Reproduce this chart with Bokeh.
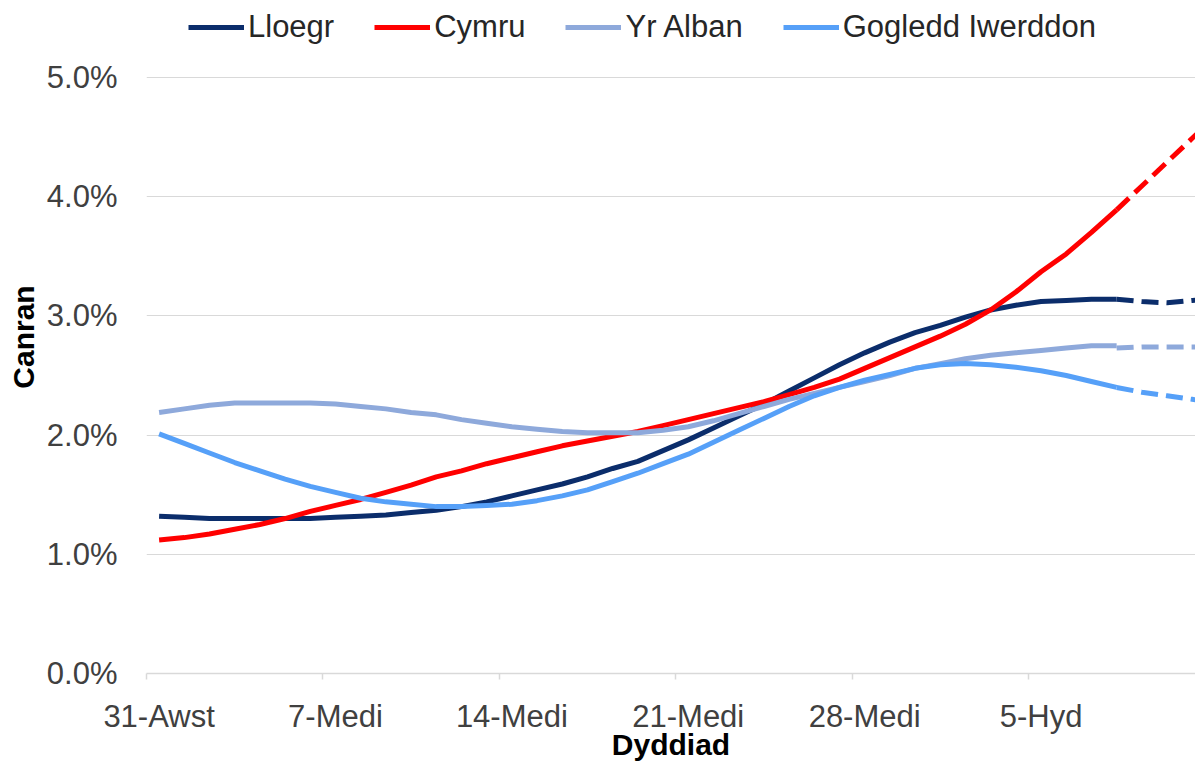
from bokeh.plotting import figure
from bokeh.models import Range1d, FixedTicker, Legend, LegendItem
from bokeh.embed import file_html
from bokeh.resources import INLINE

# ---- data (percent) ----
days = list(range(39))            # 31-Awst .. 8-Hyd (solid)
proj_days = [38, 39, 40, 41, 42]  # projection (dashed)

lloegr = [1.32, 1.31, 1.30, 1.30, 1.30, 1.30, 1.30, 1.31, 1.32, 1.33,
          1.35, 1.37, 1.40, 1.44, 1.49, 1.54, 1.59, 1.65, 1.72, 1.78,
          1.87, 1.96, 2.06, 2.16, 2.26, 2.37, 2.48, 2.59, 2.69, 2.78,
          2.86, 2.92, 2.99, 3.05, 3.09, 3.12, 3.13, 3.14, 3.14]
cymru = [1.12, 1.14, 1.17, 1.21, 1.25, 1.30, 1.36, 1.41, 1.46, 1.52,
         1.58, 1.65, 1.70, 1.76, 1.81, 1.86, 1.91, 1.95, 1.99, 2.03,
         2.08, 2.13, 2.18, 2.23, 2.28, 2.34, 2.40, 2.47, 2.56, 2.65,
         2.74, 2.83, 2.93, 3.05, 3.20, 3.37, 3.52, 3.70, 3.89]
yr_alban = [2.19, 2.22, 2.25, 2.27, 2.27, 2.27, 2.27, 2.26, 2.24, 2.22,
            2.19, 2.17, 2.13, 2.10, 2.07, 2.05, 2.03, 2.02, 2.02, 2.02,
            2.04, 2.07, 2.12, 2.18, 2.24, 2.30, 2.35, 2.40, 2.45, 2.50,
            2.56, 2.60, 2.64, 2.67, 2.69, 2.71, 2.73, 2.75, 2.75]
gogledd = [2.01, 1.93, 1.85, 1.77, 1.70, 1.63, 1.57, 1.52, 1.47, 1.44,
           1.42, 1.40, 1.40, 1.41, 1.42, 1.45, 1.49, 1.54, 1.61, 1.68,
           1.76, 1.84, 1.94, 2.04, 2.14, 2.24, 2.33, 2.40, 2.46, 2.51,
           2.56, 2.59, 2.60, 2.59, 2.57, 2.54, 2.50, 2.45, 2.40]

lloegr_proj = [3.14, 3.12, 3.11, 3.13, 3.14]
cymru_proj = [3.89, 4.09, 4.29, 4.49, 4.69]
yr_alban_proj = [2.73, 2.74, 2.74, 2.74, 2.74]
gogledd_proj = [2.40, 2.36, 2.33, 2.30, 2.27]

x_tick_pos = [0, 7, 14, 21, 28, 35]
x_tick_labels = ["31-Awst", "7-Medi", "14-Medi", "21-Medi", "28-Medi", "5-Hyd"]
y_ticks = [0, 1, 2, 3, 4, 5]
y_tick_labels = ["0.0%", "1.0%", "2.0%", "3.0%", "4.0%", "5.0%"]

names = ["Lloegr", "Cymru", "Yr Alban", "Gogledd Iwerddon"]
colors = ["#0B2D6B", "#FF0000", "#8EA9DB", "#56A0F8"]
solid = [lloegr, cymru, yr_alban, gogledd]
proj = [lloegr_proj, cymru_proj, yr_alban_proj, gogledd_proj]

FONT = "Liberation Sans"

# frame runs from the top edge of the page; the extra room above 5.0%
# holds the legend (no gridline / tick there)
p = figure(width=1195, height=765, output_backend="svg", toolbar_location=None,
           x_range=Range1d(-0.5, 41.13), y_range=Range1d(0, 5.646),
           min_border_left=146, min_border_right=0, min_border_top=0,
           min_border_bottom=92, background_fill_color="white",
           border_fill_color="white")
p.outline_line_color = None

# grid
p.xgrid.grid_line_color = None
p.ygrid.ticker = FixedTicker(ticks=y_ticks)
p.ygrid.grid_line_color = "#d9d9d9"
p.ygrid.grid_line_width = 1

# y axis
p.yaxis.ticker = FixedTicker(ticks=y_ticks)
p.yaxis.major_label_overrides = {t: l for t, l in zip(y_ticks, y_tick_labels)}
p.yaxis.axis_line_color = None
p.yaxis.major_tick_line_color = None
p.yaxis.minor_tick_line_color = None
p.yaxis.major_tick_out = 0
p.yaxis.major_tick_in = 0
p.yaxis.major_label_standoff = 29
p.yaxis.major_label_text_font = FONT
p.yaxis.major_label_text_font_size = "31px"
p.yaxis.major_label_text_color = "#404040"
p.yaxis.axis_label = "Canran"
p.yaxis.axis_label_text_font = FONT
p.yaxis.axis_label_text_font_size = "30px"
p.yaxis.axis_label_text_font_style = "bold"
p.yaxis.axis_label_text_color = "#000000"
p.yaxis.axis_label_standoff = 4

# x axis
boundaries = [t - 0.5 for t in x_tick_pos]
p.xaxis.ticker = FixedTicker(ticks=x_tick_pos, minor_ticks=boundaries)
p.xaxis.major_label_overrides = {t: l for t, l in zip(x_tick_pos, x_tick_labels)}
p.xaxis.axis_line_color = "#d9d9d9"
p.xaxis.axis_line_width = 1.5
p.xaxis.major_tick_line_color = None
p.xaxis.major_tick_out = 0
p.xaxis.major_tick_in = 0
p.xaxis.minor_tick_line_color = "#d9d9d9"
p.xaxis.minor_tick_line_width = 1.5
p.xaxis.minor_tick_out = 6
p.xaxis.minor_tick_in = 0
p.xaxis.major_label_standoff = 19
p.xaxis.major_label_text_font = FONT
p.xaxis.major_label_text_font_size = "31px"
p.xaxis.major_label_text_color = "#404040"
p.xaxis.axis_label = "Dyddiad"
p.xaxis.axis_label_text_font = FONT
p.xaxis.axis_label_text_font_size = "30px"
p.xaxis.axis_label_text_font_style = "bold"
p.xaxis.axis_label_text_color = "#000000"
p.xaxis.axis_label_standoff = -9

items = []
for name, col, ys, pys in zip(names, colors, solid, proj):
    r = p.line(days, ys, line_color=col, line_width=5, line_join="round")
    p.line(proj_days, pys, line_color=col, line_width=5, line_dash="17 8",
           line_join="round")
    items.append(LegendItem(label=name, renderers=[r]))

legend = Legend(items=items, orientation="horizontal", location=(42, 628),
                glyph_width=56, glyph_height=36, label_height=36,
                label_standoff=4, spacing=40, padding=0, margin=0,
                border_line_color=None, background_fill_alpha=0,
                label_text_font=FONT, label_text_font_size="31px",
                label_text_color="#262626")
p.add_layout(legend, "center")

open("out.html", "w").write(file_html(p, INLINE))
